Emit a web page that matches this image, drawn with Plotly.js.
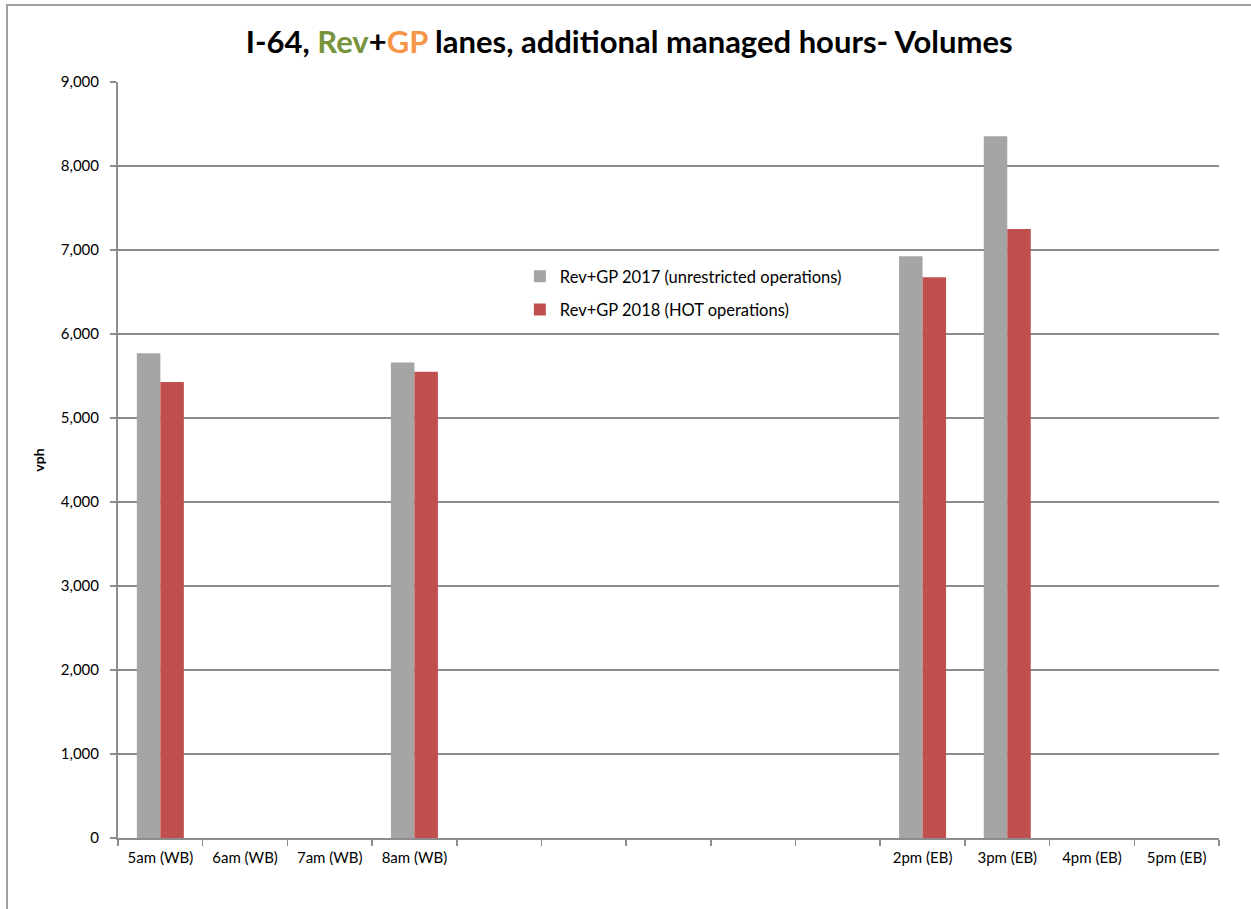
<!DOCTYPE html>
<html>
<head>
<meta charset="utf-8">
<script src="https://cdn.plot.ly/plotly-3.0.1.min.js"></script>
<style>
  html, body { margin: 0; padding: 0; background: #fff; }
  #wrap { position: relative; width: 1251px; height: 909px; overflow: hidden; }
  #chart { position: absolute; left: 0; top: 0; width: 1251px; height: 909px; }
  #frame { position: absolute; left: 6px; top: 4px; width: 1400px; height: 1000px;
           border-left: 2px solid #a0a0a0; border-top: 2px solid #a0a0a0; pointer-events: none; }
</style>
</head>
<body>
<div id="wrap">
  <div id="chart"></div>
  <div id="frame"></div>
</div>
<script>
const categories = ["5am (WB)", "6am (WB)", "7am (WB)", "8am (WB)", " ", "  ", "   ", "    ", "     ",
                    "2pm (EB)", "3pm (EB)", "4pm (EB)", "5pm (EB)"];
const series2017 = [5770, null, null, 5660, null, null, null, null, null, 6925, 8355, null, null];
const series2018 = [5430, null, null, 5550, null, null, null, null, null, 6675, 7250, null, null];
const seriesNames = ["Rev+GP 2017 (unrestricted operations)", "Rev+GP 2018 (HOT operations)"];
const yTicks = [0, 1000, 2000, 3000, 4000, 5000, 6000, 7000, 8000, 9000];
const yTickText = ["0", "1,000", "2,000", "3,000", "4,000", "5,000", "6,000", "7,000", "8,000", "9,000"];

const FONT = "Lato, 'Open Sans', sans-serif";

const traces = [
  { type: "bar", x: categories, y: series2017, name: seriesNames[0],
    marker: { color: "#A5A5A5" }, legendgroup: "a", hoverinfo: "x+y" },
  { type: "bar", x: categories, y: series2018, name: seriesNames[1],
    marker: { color: "#C0504D" }, legendgroup: "b", hoverinfo: "x+y" }
];

const layout = {
  width: 1251, height: 909,
  margin: { l: 118, r: 32, t: 82, b: 71 },
  paper_bgcolor: "#ffffff", plot_bgcolor: "#ffffff",
  font: { family: FONT, size: 15, color: "#000" },
  title: {
    text: "<b>I-64, <span style='color:#77933C'>Rev</span>+<span style='color:#F79646'>GP</span> lanes, additional managed hours- Volumes</b>",
    font: { family: FONT, size: 31, color: "#000" },
    x: 0.503, xanchor: "center", y: 0.954, yanchor: "middle"
  },
  barmode: "group",
  bargap: 0.445,
  bargroupgap: 0,
  xaxis: {
    type: "category",
    categoryorder: "array", categoryarray: categories,
    tickson: "boundaries",
    ticks: "outside", ticklen: 6, tickcolor: "#8c8c8c", tickwidth: 1.5,
    showline: true, linecolor: "#8c8c8c", linewidth: 2,
    showgrid: false, zeroline: false,
    tickfont: { family: FONT, size: 15, color: "#000" },
    ticklabelstandoff: 5,
    fixedrange: true
  },
  yaxis: {
    range: [0, 9000],
    tickvals: yTicks, ticktext: yTickText,
    ticks: "outside", ticklen: 6, tickcolor: "#8c8c8c", tickwidth: 1.5,
    showline: true, linecolor: "#8c8c8c", linewidth: 2,
    showgrid: true, gridcolor: "#8c8c8c", gridwidth: 1.3,
    zeroline: false,
    tickfont: { family: FONT, size: 15, color: "#000" },
    ticklabelstandoff: 8,
    title: { text: "<b>vph</b>", font: { family: FONT, size: 14, color: "#000" }, standoff: 13 },
    fixedrange: true
  },
  showlegend: true,
  legend: {
    x: 0.365, xanchor: "left", y: 0.766, yanchor: "top",
    bgcolor: "rgba(0,0,0,0)",
    font: { family: FONT, size: 16.5, color: "#000" },
    traceorder: "grouped", tracegroupgap: 9,
    itemwidth: 30
  }
};

Plotly.newPlot("chart", traces, layout, { displayModeBar: false, staticPlot: true });
</script>
</body>
</html>
